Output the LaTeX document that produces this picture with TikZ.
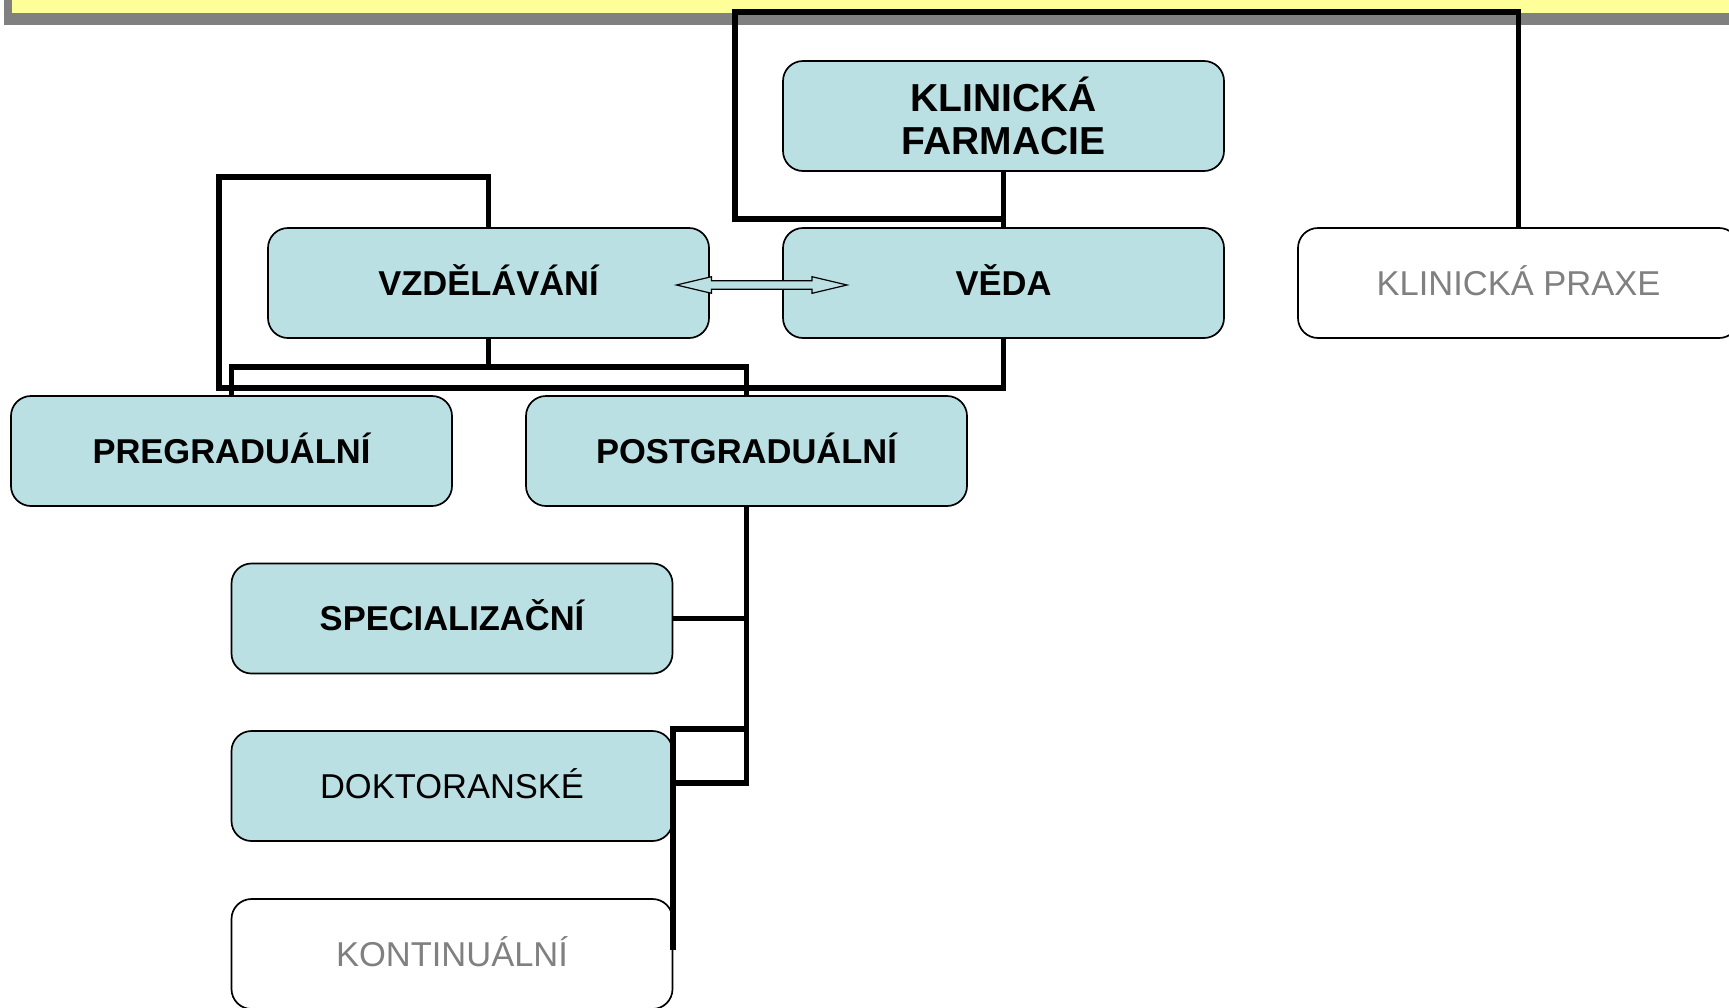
\documentclass[tikz,border=0pt]{standalone}
\usepackage{fontspec}
\setmainfont{Liberation Sans}
\usetikzlibrary{calc}
\definecolor{boxfill}{HTML}{BBE0E3}
\definecolor{band}{HTML}{FFFF99}
\definecolor{bandshadow}{HTML}{808080}
\definecolor{greytext}{HTML}{808080}
\begin{document}
\begin{tikzpicture}[x=1pt,y=-1pt,
  box/.style={draw=black, line width=1.7pt, rounded corners=20pt, minimum width=441pt,
    minimum height=110pt, inner sep=0pt, fill=boxfill, align=center,
    font=\fontsize{39}{43}\selectfont\bfseries},
  onebox/.style={box, text height=24.7pt, text depth=0pt,
    font=\fontsize{34.5}{40}\selectfont\bfseries},
  plainbox/.style={onebox, font=\fontsize{34.5}{40}\selectfont},
  greybox/.style={plainbox, fill=white, text=greytext},
  conn/.style={line width=5.6pt, line join=miter}]
\useasboundingbox (0,0) rectangle (1729,1007);
\clip (0,0) rectangle (1729,1007);
% top band
\fill[bandshadow] (4,-10) rectangle (1740,25);
\fill[band] (12,-10) rectangle (1740,13);
% boxes
\node[box] (kf) at (1003.5,116) {KLINICKÁ\\FARMACIE};
\node[onebox] (vzd) at (488.5,283) {VZDĚLÁVÁNÍ};
\node[onebox] (veda) at (1003.5,283) {VĚDA};
\node[greybox] (kp) at (1518.5,283) {KLINICKÁ PRAXE};
\node[onebox] (pre) at (231.5,451) {PREGRADUÁLNÍ};
\node[onebox] (post) at (746.5,451) {POSTGRADUÁLNÍ};
\node[onebox] (spec) at (452,618.5) {SPECIALIZAČNÍ};
\node[plainbox] (dok) at (452,786) {DOKTORANSKÉ};
\node[greybox] (kont) at (452,954) {KONTINUÁLNÍ};
% waypoints
\coordinate (w1) at (735,219);
\coordinate (w2) at (735,12);
\coordinate (w3) at (219,388);
\coordinate (w4) at (746.5,367);
\coordinate (w5) at (746.5,783);
\coordinate (w6) at (673,783);
\coordinate (w7) at (746.5,729);
\coordinate (w8) at (673,729);
\coordinate (w9) at (673,950);
% connectors
\draw[conn] (kf.south) -- (veda.north);
\draw[conn] (kf.south |- w1) -- (w1) -- (w2) -- (kp.north |- w2) -- (kp.north);
\draw[conn] (vzd.north) -- ++(0,-50) -| (w3) -| (veda.south);
\draw[conn] (vzd.south) -- (vzd.south |- w4);
\draw[conn] (pre.north) |- (w4) -- (post.north);
\draw[conn] (post.south) -- (w5) -- (w6);
\draw[conn] (spec.east) -- (spec.east -| w5);
\draw[conn] (w7) -- (w8) -- (w9);
% double arrow
\coordinate (al) at (676.5,285);
\coordinate (ar) at (847,285);
\draw[fill=boxfill, line width=1.2pt, line join=miter]
  (al) -- ++(35,-8.3) -- ++(0,4) -- ($(ar)+(-35,-4.3)$) -- ++(0,-4) -- (ar)
  -- ++(-35,8.3) -- ++(0,-4) -- ($(al)+(35,4.3)$) -- ++(0,4) -- cycle;
\end{tikzpicture}
\end{document}
